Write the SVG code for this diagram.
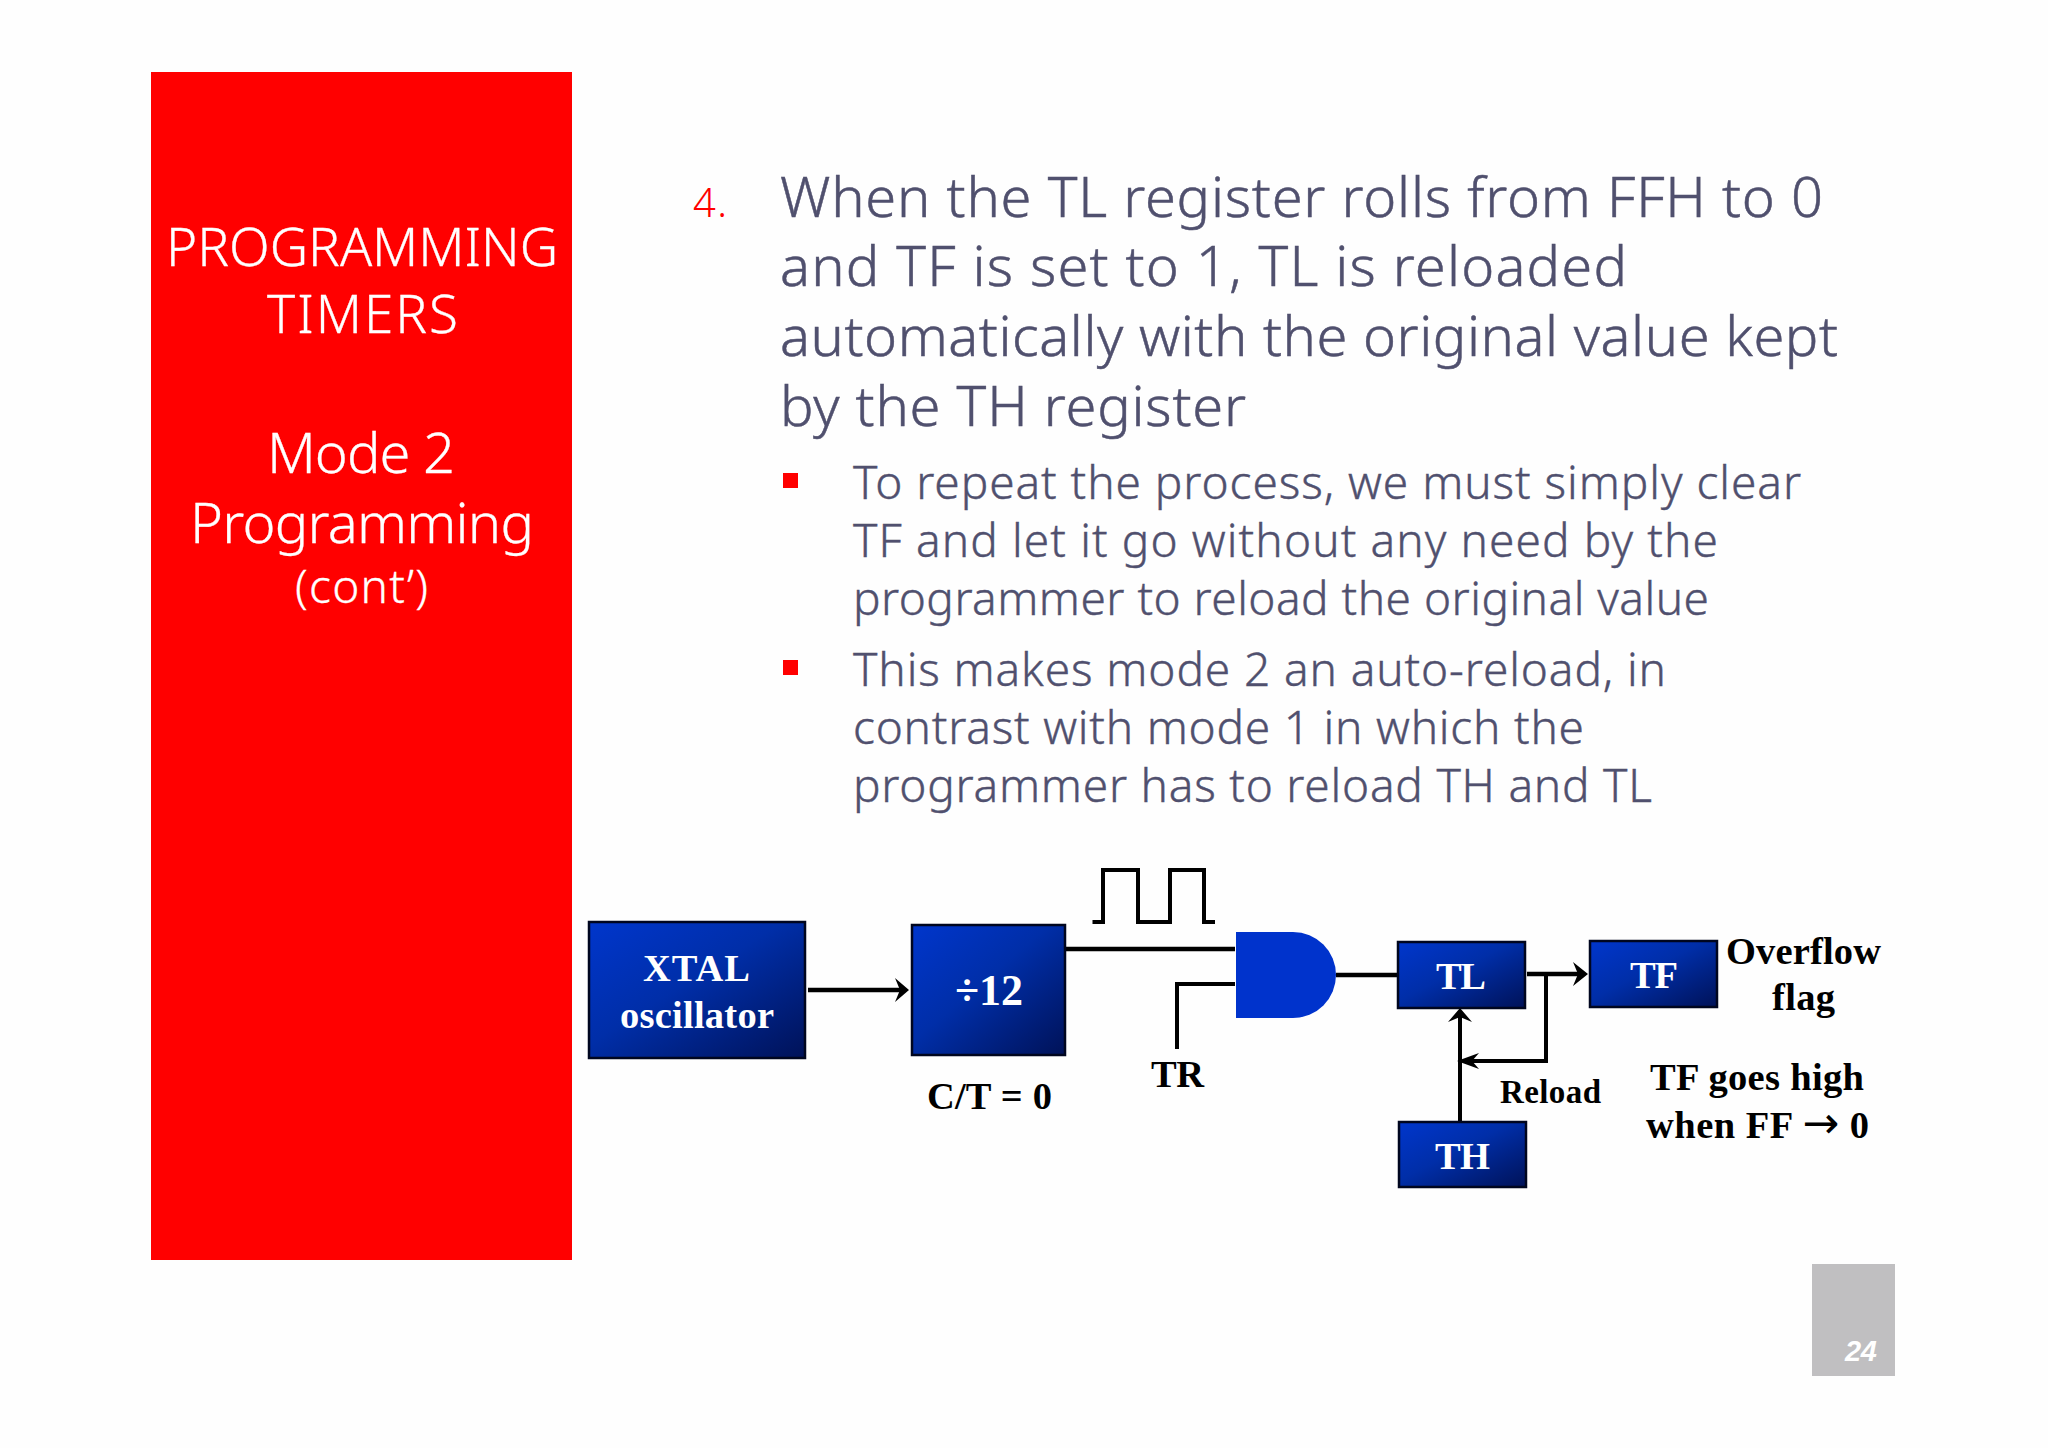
<svg xmlns="http://www.w3.org/2000/svg" width="2048" height="1448" viewBox="0 0 2048 1448">
<style>
.t{font-family:"Noto Sans","DejaVu Sans",sans-serif;font-weight:300}
.w{fill:#fff;stroke:#fff;stroke-width:.3}
.m{fill:#50506e;stroke:#50506e;stroke-width:.5;font-size:56px}
.s{fill:#50506e;stroke:#50506e;stroke-width:.4;font-size:46px}
.b{font-family:"Liberation Serif","Times New Roman",serif;font-weight:700;font-size:38.500px;fill:#000}
.bw{fill:#fff}
.box{stroke:#00061f;stroke-width:2.5;fill:url(#g)}
.c{fill:none;stroke:#000;stroke-width:4.5}
.h{fill:#000}
</style>
<defs>
<linearGradient id="g" x1="0" y1="0" x2="1" y2="1"><stop offset="0" stop-color="#0036cc"/><stop offset=".45" stop-color="#002ea8"/><stop offset="1" stop-color="#001258"/></linearGradient>
</defs>
<rect width="2048" height="1448" fill="#fefefe"/>
<g id="sidebar">
<rect x="151" y="72" width="421" height="1188" fill="#ff0000"/>
<text class="t w" x="166" y="266" font-size="53" textLength="392">PROGRAMMING</text>
<text class="t w" x="267" y="333" font-size="53" textLength="191">TIMERS</text>
<text class="t w" x="267" y="473" font-size="56" textLength="188">Mode 2</text>
<text class="t w" x="190" y="543" font-size="56" textLength="344">Programming</text>
<text class="t w" x="295" y="603" font-size="46" textLength="133">(cont’)</text>
</g>
<g id="body">
<text class="t" x="693" y="217" font-size="40" fill="#ff0000" textLength="34">4.</text>
<text class="t m" x="780" y="217" textLength="1043">When the TL register rolls from FFH to 0</text>
<text class="t m" x="780" y="286" textLength="847">and TF is set to 1, TL is reloaded</text>
<text class="t m" x="780" y="356" textLength="1058">automatically with the original value kept</text>
<text class="t m" x="780" y="426" textLength="466">by the TH register</text>
<rect x="783" y="473" width="15" height="15" fill="#ff0000"/>
<text class="t s" x="853" y="499" textLength="948">To repeat the process, we must simply clear</text>
<text class="t s" x="853" y="557" textLength="865">TF and let it go without any need by the</text>
<text class="t s" x="853" y="615" textLength="856">programmer to reload the original value</text>
<rect x="783" y="660" width="15" height="15" fill="#ff0000"/>
<text class="t s" x="853" y="686" textLength="813">This makes mode 2 an auto-reload, in</text>
<text class="t s" x="853" y="744" textLength="731">contrast with mode 1 in which the</text>
<text class="t s" x="853" y="802" textLength="799">programmer has to reload TH and TL</text>
</g>
<g id="connectors" transform="translate(0 1)">
<path class="c" d="M808 989H900"/><path class="h" d="M909 989L895 977L900 989L895 1001Z"/>
<path class="c" d="M1092.500 921H1103V869H1138V921H1170V869H1204V921H1215" style="stroke-width:4"/>
<path class="c" d="M1066 948H1235"/>
<path class="c" d="M1235 983H1177V1048" style="stroke-width:4"/>
<path class="c" d="M1336 974H1397"/>
<path class="c" d="M1527 973H1580"/><path class="h" d="M1588 973L1573 961L1578 973L1573 985Z"/>
<path class="c" d="M1546 973V1060H1465" style="stroke-width:4"/><path class="h" d="M1457 1060L1479 1052L1472 1060L1479 1068Z"/>
<path class="c" d="M1460 1120V1016" style="stroke-width:4"/><path class="h" d="M1460 1007L1448 1021L1460 1016L1472 1021Z"/>
</g>
<g id="xtal"><rect class="box" x="589" y="922" width="216" height="136"/>
<text class="b bw" x="643" y="981" textLength="107">XTAL</text><text class="b bw" x="620" y="1028" textLength="154">oscillator</text></g>
<g id="div12"><rect class="box" x="912" y="925" width="153" height="130"/>
<text class="b bw" x="955" y="1005" textLength="68" style="font-size:44px">÷12</text></g>
<g id="and-gate"><path d="M1236 932H1293A43 43 0 0 1 1293 1018H1236Z" fill="#0033cc"/></g>
<g id="tl"><rect class="box" x="1398" y="942" width="127" height="66"/><text class="b bw" x="1436" y="989" textLength="50">TL</text></g>
<g id="tf"><rect class="box" x="1590" y="941" width="127" height="66"/><text class="b bw" x="1630" y="988" textLength="48">TF</text></g>
<g id="th"><rect class="box" x="1399" y="1122" width="127" height="65"/><text class="b bw" x="1435" y="1169" textLength="55">TH</text></g>
<g id="labels">
<text class="b" x="927" y="1109" textLength="125">C/T = 0</text>
<text class="b" x="1151" y="1087" textLength="53">TR</text>
<text class="b" x="1500" y="1103" textLength="101" style="font-size:33px">Reload</text>
<text class="b" x="1726" y="964" textLength="155">Overflow</text>
<text class="b" x="1772" y="1010" textLength="63">flag</text>
<text class="b" x="1650" y="1090" textLength="214">TF goes high</text>
<text class="b" x="1646" y="1138" textLength="223">when FF <tspan font-family="DejaVu Sans" font-weight="400" font-size="44">→</tspan> 0</text>
</g>
<g id="page"><rect x="1812" y="1264" width="83" height="112" fill="#c0bfc1"/>
<text x="1845" y="1361" font-family="Liberation Sans, Arial, sans-serif" font-size="29" font-weight="700" font-style="italic" fill="#fff" textLength="32">24</text></g>
</svg>
